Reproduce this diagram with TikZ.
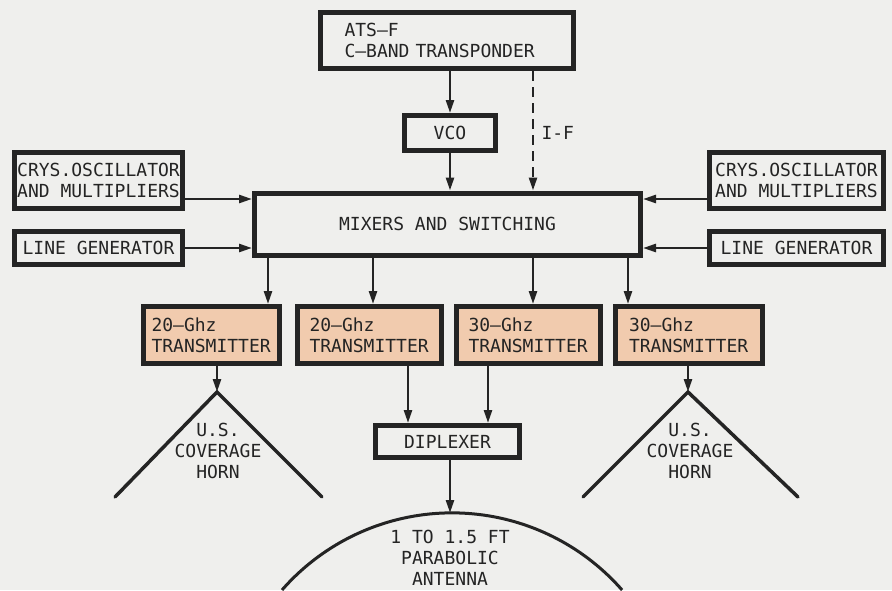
\documentclass[tikz,border=0pt]{standalone}
\usepackage{fontspec}
\setmainfont{DejaVu Sans Mono}
\usetikzlibrary{arrows.meta}
\usetikzlibrary{positioning}
\definecolor{paper}{RGB}{239,239,237}
\definecolor{ink}{RGB}{36,36,36}
\definecolor{peach}{RGB}{241,203,174}

\begin{document}
\begin{tikzpicture}[
  x=1pt, y=-1pt,
  every node/.style={font=\fontsize{18}{21}\selectfont, text=ink},
  blk/.style={draw=ink, line width=5pt, inner sep=2pt, align=center},
  txbox/.style={blk, fill=peach, align=left, text width=120pt, minimum height=57pt},
  arr/.style={draw=ink, line width=2.5pt, -{Triangle[length=13pt,width=8pt]}},
  horn/.style={draw=ink, line width=3.5pt, line cap=round},
  dish/.style={draw=ink, line width=3pt}
]
\fill[paper] (0,0) rectangle (892,590);
\useasboundingbox (0,0) rectangle (892,590);

% top of the chain
\node[blk, minimum width=253pt, minimum height=56pt, text width=205pt, align=left] (ats) at (447,40.5) {ATS--F\\C--BAND TRANSPONDER};
\node[blk, minimum width=91pt, minimum height=35pt] (vco) at (450,133) {VCO};
\node[blk, minimum width=386pt, minimum height=62pt] (mix) at (447.5,224) {MIXERS AND SWITCHING};

% side inputs
\node[blk, minimum width=168pt, minimum height=56pt] (oscL) at (98.5,180.5) {CRYS.OSCILLATOR\\AND MULTIPLIERS};
\node[blk, minimum width=168pt, minimum height=33pt] (lineL) at (98.5,248) {LINE GENERATOR};
\node[blk, minimum width=174pt, minimum height=56pt] (oscR) at (796.5,180.5) {CRYS.OSCILLATOR\\AND MULTIPLIERS};
\node[blk, minimum width=174pt, minimum height=33pt] (lineR) at (796.5,248) {LINE GENERATOR};

% transmitters
\node[txbox, minimum width=136pt] (tx1) at (211.5,335) {20--Ghz\\TRANSMITTER};
\node[txbox, minimum width=144pt] (tx2) at (369.5,335) {20--Ghz\\TRANSMITTER};
\node[txbox, minimum width=144pt] (tx3) at (528.5,335) {30--Ghz\\TRANSMITTER};
\node[txbox, minimum width=147pt] (tx4) at (689,335) {30--Ghz\\TRANSMITTER};

\node[blk, minimum width=144pt, minimum height=32pt] (dip) at (447.5,441.5) {DIPLEXER};

% horns and dish
\coordinate (hornL) at (217,392);
\coordinate (hornR) at (688,392);
\coordinate (ant) at (450,513);
\node[align=center] (hornLtxt) at (218,451) {U.S.\\COVERAGE\\HORN};
\node[align=center] (hornRtxt) at (690,451) {U.S.\\COVERAGE\\HORN};
\node[align=center] (anttxt) at (450,558) {1 TO 1.5 FT\\PARABOLIC\\ANTENNA};
\node[anchor=west] (iflab) at (538,133) {I-F};

\draw[arr] (ats.south -| vco.north) -- (vco.north);
\draw[arr] (vco.south) -- (vco.south |- mix.north);
\draw[arr, dash pattern=on 10pt off 6pt] ([xshift=86pt]ats.south) -- ([xshift=85.5pt]mix.north);

\draw[arr] ([yshift=-18.5pt]oscL.east) -- ([yshift=25pt]mix.west);
\draw[arr] (lineL.east) -- (lineL.east -| mix.west);
\draw[arr] ([yshift=-18.5pt]oscR.west) -- ([yshift=25pt]mix.east);
\draw[arr] (lineR.west) -- (lineR.west -| mix.east);

\draw[arr] ([xshift=-179.5pt]mix.south) -- ([xshift=56.5pt]tx1.north);
\draw[arr] ([xshift=-74.5pt]mix.south) -- ([xshift=3.5pt]tx2.north);
\draw[arr] ([xshift=85.5pt]mix.south) -- ([xshift=4.5pt]tx3.north);
\draw[arr] ([xshift=180.5pt]mix.south) -- ([xshift=-61pt]tx4.north);

\draw[arr] (tx1.south -| hornL) -- (hornL);
\draw[horn] (115,497) -- (hornL) -- (322,497);
\draw[arr] (tx4.south -| hornR) -- (hornR);
\draw[horn] (583,497) -- (hornR) -- (798,497);

\draw[arr] ([xshift=38.5pt]tx2.south) -- ([xshift=-39.5pt]dip.north);
\draw[arr] ([xshift=-40.5pt]tx3.south) -- ([xshift=40.5pt]dip.north);
\draw[arr] (dip.south -| ant) -- (ant);
\draw[dish] (282,590) arc[start angle=-138.8, end angle=-41.2, radius=226];
\end{tikzpicture}
\end{document}
